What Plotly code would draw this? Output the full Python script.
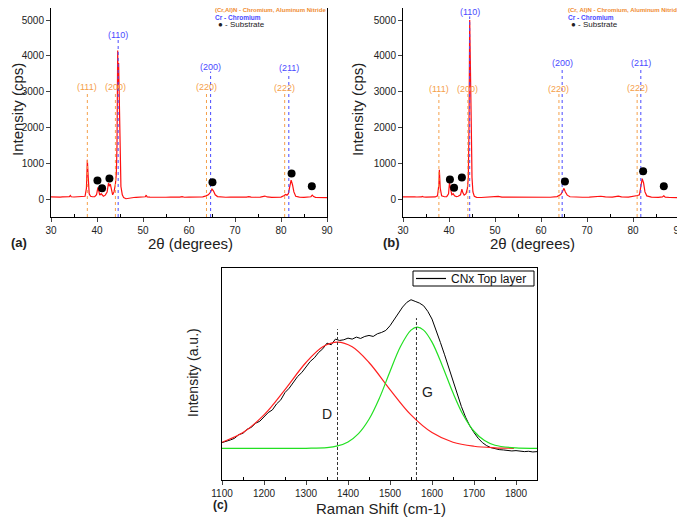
import plotly.graph_objects as go

# ---------------- data ----------------
# (a) XRD pattern
xa = [30.0,30.5,31.0,31.5,32.0,32.5,33.0,33.5,34.0,34.2,34.4,35.0,35.5,36.0,36.5,37.0,37.4,37.7,37.9,38.1,
      38.3,38.6,39.0,39.5,39.9,40.2,40.4,40.6,40.9,41.1,41.4,41.8,42.2,42.5,42.7,42.9,43.1,43.4,43.7,44.0,
      44.2,44.35,44.5,44.6,44.7,44.85,45.0,45.2,45.5,45.8,46.3,46.8,47.5,48.0,48.5,49.0,49.5,50.0,50.5,50.7,
      50.9,51.5,52.0,53.0,54.0,55.0,56.0,57.0,58.0,58.5,59.0,60.0,61.0,62.0,63.0,63.7,64.2,64.6,65.0,65.3,
      65.7,66.2,67.0,68.0,69.0,70.0,70.3,70.6,71.5,72.5,73.0,73.5,74.5,75.5,76.5,77.0,78.0,79.0,80.0,80.7,
      81.0,81.3,81.6,81.9,82.2,82.5,82.8,83.2,84.0,85.0,86.0,86.5,86.8,87.1,87.5,88.0,88.5,89.0,89.5,90.0]
ya = [60,55,62,58,55,60,57,62,70,100,65,58,60,55,62,65,80,300,1100,600,
      150,80,65,70,120,330,250,110,150,120,80,110,200,450,360,420,250,120,200,420,
      700,1500,4150,3200,3800,2600,1000,350,120,40,10,25,40,45,50,52,55,55,65,110,
      60,55,52,55,50,52,55,50,55,70,52,55,52,55,60,90,120,180,280,230,
      120,70,55,52,55,52,70,50,52,55,70,55,52,55,85,60,50,52,55,100,
      130,110,150,350,530,400,200,80,55,50,52,65,110,70,50,45,48,42,45,40]
subs_a_x = [40.1, 41.1, 42.7, 65.1, 82.3, 86.7]
subs_a_y = [520, 300, 575, 470, 715, 360]

# (b) XRD pattern
xb = [30.0,30.5,31.0,31.5,32.0,32.5,33.0,33.5,34.0,34.2,34.5,35.0,36.0,37.0,37.5,37.8,37.9,38.1,38.4,39.0,
      39.5,39.9,40.1,40.3,40.6,40.9,41.2,41.6,42.0,42.5,42.8,43.0,43.3,43.7,44.0,44.2,44.35,44.5,44.6,44.7,
      44.85,45.0,45.2,45.5,46.0,47.0,48.0,49.0,50.0,50.7,51.5,53.0,55.0,57.0,58.5,60.0,62.0,63.5,64.3,64.7,
      65.0,65.3,65.7,66.3,67.5,69.0,70.5,72.0,73.0,74.0,75.5,76.8,77.5,79.0,80.5,81.0,81.4,81.7,82.0,82.3,
      82.6,83.0,84.0,85.5,86.4,86.7,87.0,88.0,89.0,90.0]
yb = [60,56,58,62,55,60,58,55,60,75,58,55,58,60,90,400,820,300,90,65,
      70,150,450,300,120,150,90,70,80,120,280,180,110,150,300,600,2000,5000,3500,3700,
      2000,600,200,80,50,45,50,52,55,75,55,52,55,52,60,55,52,70,130,220,
      300,200,110,65,55,52,55,60,80,60,55,80,60,55,80,100,120,300,570,450,
      200,90,55,50,60,90,55,45,42,40]
subs_b_x = [40.2, 41.1, 42.8, 65.2, 82.2, 86.7]
subs_b_y = [547, 315, 603, 492, 779, 362]

# reference peak positions (a) and (b)
craln_a = [37.9, 44.0, 63.8, 80.8]
cr_a = [44.6, 64.7, 81.7]
craln_b = [37.8, 44.1, 63.9, 80.9]
cr_b = [44.5, 64.6, 81.7]
craln_labels = ["(111)", "(200)", "(220)", "(222)"]
cr_labels = ["(110)", "(200)", "(211)"]
craln_label_y_a = [3130, 3130, 3130, 3100]
cr_label_y_a = [4590, 3690, 3660]
craln_label_y_b = [3070, 3070, 3070, 3100]
cr_label_y_b = [5230, 3790, 3810]

# (c) Raman spectrum
xc = list(range(1100, 1851, 10))
yc = [1.12,1.15,1.20,1.25,1.36,1.40,1.52,1.58,1.70,1.76,1.90,2.02,2.10,2.28,2.40,2.62,2.75,2.92,3.10,3.22,
      3.38,3.55,3.66,3.82,3.93,4.10,4.05,4.22,4.18,4.20,4.25,4.22,4.28,4.24,4.30,4.33,4.30,4.38,4.42,4.48,
      4.62,4.80,4.98,5.18,5.32,5.40,5.35,5.30,5.22,5.05,4.82,4.50,4.12,3.75,3.35,2.95,2.55,2.20,1.88,1.62,
      1.42,1.25,1.12,1.03,0.97,0.93,0.91,0.90,0.88,0.87,0.88,0.86,0.85,0.86,0.84,0.85]
xd = [1100,1150,1200,1250,1300,1340,1375,1410,1450,1500,1550,1600,1650,1700,1750,1795]
yd = [1.13,1.42,1.95,2.71,3.52,3.99,4.13,3.99,3.52,2.71,1.95,1.42,1.13,1.01,0.965,0.95]
xg = [1100,1300,1350,1375,1400,1425,1450,1475,1500,1525,1550,1565,1580,1600,1625,1650,1675,1700,1725,1750,1800,1850]
yg = [0.95,0.95,0.97,1.02,1.14,1.39,1.82,2.46,3.25,4.00,4.49,4.58,4.49,4.13,3.41,2.61,1.93,1.46,1.18,1.04,0.96,0.95]
band_pos = [1375, 1563]
band_top = [4.52, 4.85]
band_names = ["D", "G"]
band_label_x = [1350, 1590]
band_label_y = [1.98, 2.63]
raman_legend_name = "CNx Top layer"

# ---------------- styles ----------------
ORANGE = "#f5a04a"
BLUE = "#4a4aff"
FONT = "Liberation Sans, Arial, sans-serif"

fig = go.Figure()

def xrd_panel(xs, ys, sx, sy, craln, cr, cl_y, cr_y, xa_name, ya_name):
    fig.add_trace(go.Scatter(x=xs, y=ys, mode="lines", line=dict(color="#ff1010", width=1.2),
                             xaxis=xa_name, yaxis=ya_name, showlegend=False))
    for p, ly in zip(craln, cl_y):
        fig.add_trace(go.Scatter(x=[p, p], y=[-500, ly - 130], mode="lines",
                                 line=dict(color=ORANGE, width=1, dash="dot"),
                                 xaxis=xa_name, yaxis=ya_name, showlegend=False, hoverinfo="skip"))
    for p, ly in zip(cr, cr_y):
        fig.add_trace(go.Scatter(x=[p, p], y=[-500, ly - 130], mode="lines",
                                 line=dict(color=BLUE, width=1, dash="dot"),
                                 xaxis=xa_name, yaxis=ya_name, showlegend=False, hoverinfo="skip"))
    fig.add_trace(go.Scatter(x=sx, y=sy, mode="markers", marker=dict(color="black", size=8),
                             xaxis=xa_name, yaxis=ya_name, showlegend=False))
    for p, ly, t in zip(craln, cl_y, craln_labels):
        fig.add_annotation(x=p, y=ly, xref=xa_name, yref=ya_name, text=t, showarrow=False,
                           font=dict(size=9, color=ORANGE, family=FONT))
    for p, ly, t in zip(cr, cr_y, cr_labels):
        fig.add_annotation(x=p, y=ly, xref=xa_name, yref=ya_name, text=t, showarrow=False,
                           font=dict(size=9, color=BLUE, family=FONT))

xrd_panel(xa, ya, subs_a_x, subs_a_y, craln_a, cr_a, craln_label_y_a, cr_label_y_a, "x", "y")
xrd_panel(xb, yb, subs_b_x, subs_b_y, craln_b, cr_b, craln_label_y_b, cr_label_y_b, "x2", "y2")

# Raman traces
fig.add_trace(go.Scatter(x=xc, y=yc, mode="lines", name=raman_legend_name,
                         line=dict(color="black", width=1), xaxis="x3", yaxis="y3", showlegend=False))
fig.add_trace(go.Scatter(x=xd, y=yd, mode="lines", line=dict(color="#ff2020", width=1.2, shape="spline"),
                         xaxis="x3", yaxis="y3", showlegend=False))
fig.add_trace(go.Scatter(x=xg, y=yg, mode="lines", line=dict(color="#22e022", width=1.2, shape="spline"),
                         xaxis="x3", yaxis="y3", showlegend=False))
for p, t in zip(band_pos, band_top):
    fig.add_trace(go.Scatter(x=[p, p], y=[0, t], mode="lines", line=dict(color="#333333", width=1, dash="3px,2px"),
                             xaxis="x3", yaxis="y3", showlegend=False, hoverinfo="skip"))
for lx, ly, t in zip(band_label_x, band_label_y, band_names):
    fig.add_annotation(x=lx, y=ly, xref="x3", yref="y3", text=t, showarrow=False,
                       font=dict(size=14, color="#222222", family=FONT))

# ---------------- axes ----------------
# page pixel -> paper coordinate (the figure sits 8 px inside the page)
H, W, OFF = 517, 685, 8
def px_x(p): return (p - OFF) / W
def px_y(p): return 1 - (p - OFF) / H

# top of panels (a)/(b) is clipped to the figure top; range top matched to that pixel
xrd_top = 5000 + (20 - OFF) / 35.8 * 1000

xrd_x = dict(range=[30, 90], tickvals=[30, 40, 50, 60, 70, 80, 90], showline=True, mirror=True,
             linecolor="black", linewidth=1, ticks="outside", ticklen=4, showgrid=False, zeroline=False,
             automargin=False,
             minor=dict(tickvals=[35, 45, 55, 65, 75, 85], ticks="inside", ticklen=3, tickcolor="black"),
             tickfont=dict(size=10, family=FONT, color="#222"))
xrd_y = dict(range=[-500, xrd_top], tickvals=[0, 1000, 2000, 3000, 4000, 5000], showline=True, mirror=True,
             linecolor="black", linewidth=1, ticks="outside", ticklen=4, showgrid=False, zeroline=False,
             automargin=False,
             tickfont=dict(size=10, family=FONT, color="#222"))

fig.update_layout(
    width=W, height=H, margin=dict(l=0, r=0, t=0, b=0, autoexpand=False),
    paper_bgcolor="white", plot_bgcolor="white", showlegend=False,
    xaxis=dict(domain=[px_x(51), px_x(327)], anchor="y", **xrd_x),
    yaxis=dict(domain=[px_y(217), 1.0], anchor="x", **xrd_y),
    xaxis2=dict(domain=[px_x(403), px_x(679)], anchor="y2", **xrd_x),
    yaxis2=dict(domain=[px_y(217), 1.0], anchor="x2", **xrd_y),
    xaxis3=dict(domain=[px_x(222), px_x(537)], anchor="y3", range=[1100, 1850], automargin=False,
                tickvals=[1100, 1200, 1300, 1400, 1500, 1600, 1700, 1800], showline=True, mirror=True,
                linecolor="black", linewidth=1, ticks="outside", ticklen=4, showgrid=False, zeroline=False,
                minor=dict(tickvals=[1150, 1250, 1350, 1450, 1550, 1650, 1750], ticks="inside", ticklen=3,
                           tickcolor="black"),
                tickfont=dict(size=10, family=FONT, color="#222")),
    yaxis3=dict(domain=[px_y(480), px_y(268)], anchor="x3", range=[0, 6.35], showline=True, mirror=True,
                automargin=False,
                linecolor="black", linewidth=1, showticklabels=False, ticks="", showgrid=False, zeroline=False),
    font=dict(family=FONT),
)

# compact legend box for panel (c)
fig.add_shape(type="rect", xref="paper", yref="paper", x0=px_x(413), x1=px_x(534), y0=px_y(286), y1=px_y(271),
              line=dict(color="black", width=1), fillcolor="white", layer="above")
fig.add_shape(type="line", xref="paper", yref="paper", x0=px_x(416), x1=px_x(446), y0=px_y(278.5), y1=px_y(278.5),
              line=dict(color="black", width=1.2), layer="above")

# axis titles and panel letters as paper annotations
def pa(x, y, text, size, angle=0, bold=False, xanchor="center", color="#222"):
    fig.add_annotation(x=px_x(x), y=px_y(y), xref="paper", yref="paper", text=("<b>%s</b>" % text) if bold else text,
                       showarrow=False, textangle=angle, xanchor=xanchor, yanchor="middle",
                       font=dict(size=size, family=FONT, color=color))

pa(449, 278.5, raman_legend_name, 12, xanchor="left", color="#111")
pa(18, 110, "Intensity (cps)", 15, angle=-90)
pa(358, 110, "Intensity (cps)", 15, angle=-90)
pa(190, 243, "2θ (degrees)", 15)
pa(532, 243, "2θ (degrees)", 15)
pa(19, 242, "(a)", 13, bold=True)
pa(391, 242, "(b)", 13, bold=True)
pa(193, 373, "Intensity (a.u.)", 14, angle=-90)
pa(381, 508, "Raman Shift (cm-1)", 15)
pa(220, 505, "(c)", 12, bold=True)

# in-plot legends for XRD panels
for x0 in (213, 566):
    lab = "(Cr,Al)N - Chromium, Aluminum Nitride" if x0 == 213 else "(Cr, Al)N - Chromium, Aluminum Nitride"
    pa(x0, 10, "<b>%s</b>" % lab, 6, xanchor="left", color="#f08c30")
    pa(x0, 17, "<b>Cr - Chromium</b>", 6.5, xanchor="left", color=BLUE)
    pa(x0 + 3, 25, "● - Substrate", 8, xanchor="left", color="#222")

fig.write_html("out.html")
